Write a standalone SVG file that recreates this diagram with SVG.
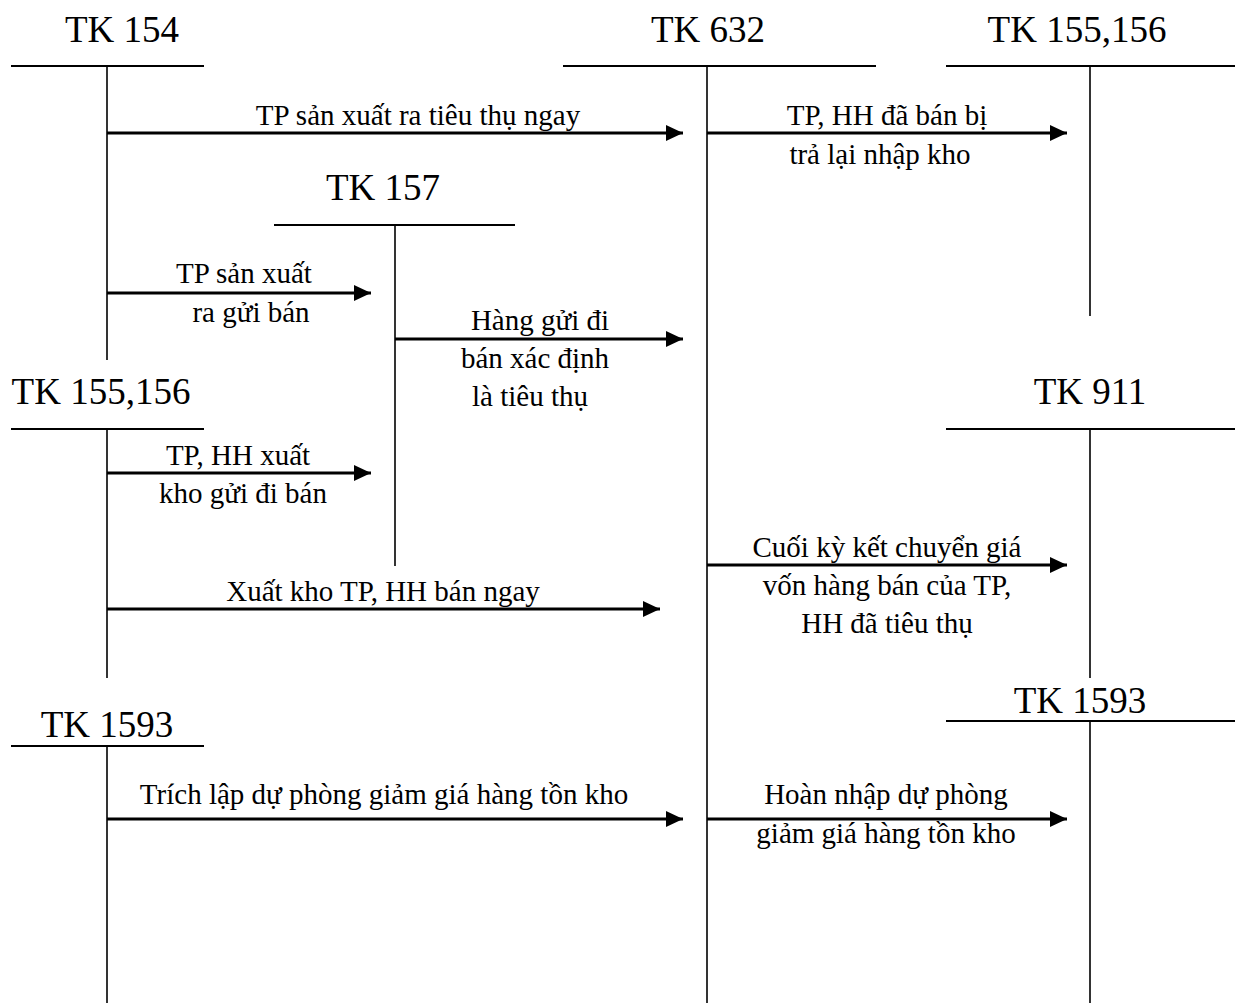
<svg xmlns="http://www.w3.org/2000/svg" width="1238" height="1003" viewBox="0 0 1238 1003">
<style>
.t{font-family:"Liberation Serif","Times New Roman",serif;font-size:37px;fill:#000;text-anchor:middle}
.l{font-family:"Liberation Serif","Times New Roman",serif;font-size:29px;fill:#000;text-anchor:middle}
.h{stroke:#000;stroke-width:2;fill:none}
.v{stroke:#000;stroke-width:1.6;fill:none}
.a{stroke:#000;stroke-width:2.8;fill:none;marker-end:url(#ah)}
</style>
<defs>
<marker id="ah" markerUnits="userSpaceOnUse" markerWidth="18" markerHeight="16" refX="17" refY="8" orient="auto">
<path d="M0,0 L17,8 L0,16 z" fill="#000"/>
</marker>
</defs>
<rect width="1238" height="1003" fill="#fff"/>
<g id="tk154">
<text class="t" x="122" y="42">TK 154</text>
<line class="h" x1="11" y1="66" x2="204" y2="66"/>
<line class="v" x1="107" y1="66" x2="107" y2="360"/>
</g>
<g id="tk632">
<text class="t" x="708" y="42">TK 632</text>
<line class="h" x1="563" y1="66" x2="876" y2="66"/>
<line class="v" x1="707" y1="66" x2="707" y2="1003"/>
</g>
<g id="tk155top">
<text class="t" x="1077" y="42">TK 155,156</text>
<line class="h" x1="946" y1="66" x2="1235" y2="66"/>
<line class="v" x1="1090" y1="66" x2="1090" y2="316"/>
</g>
<g id="tk157">
<text class="t" x="383" y="200">TK 157</text>
<line class="h" x1="274" y1="225" x2="515" y2="225"/>
<line class="v" x1="395" y1="225" x2="395" y2="566"/>
</g>
<g id="tk155left">
<text class="t" x="101" y="404">TK 155,156</text>
<line class="h" x1="11" y1="429" x2="204" y2="429"/>
<line class="v" x1="107" y1="429" x2="107" y2="678"/>
</g>
<g id="tk911">
<text class="t" x="1090" y="404">TK 911</text>
<line class="h" x1="946" y1="429" x2="1235" y2="429"/>
<line class="v" x1="1090" y1="429" x2="1090" y2="678"/>
</g>
<g id="tk1593left">
<text class="t" x="107" y="737">TK 1593</text>
<line class="h" x1="11" y1="746" x2="204" y2="746"/>
<line class="v" x1="107" y1="746" x2="107" y2="1003"/>
</g>
<g id="tk1593right">
<text class="t" x="1080" y="713">TK 1593</text>
<line class="h" x1="946" y1="721" x2="1235" y2="721"/>
<line class="v" x1="1090" y1="721" x2="1090" y2="1003"/>
</g>
<g id="connectors">
<line class="a" x1="107" y1="133" x2="683" y2="133"/>
<line class="a" x1="707" y1="133" x2="1067" y2="133"/>
<line class="a" x1="107" y1="293" x2="371" y2="293"/>
<line class="a" x1="395" y1="339" x2="683" y2="339"/>
<line class="a" x1="107" y1="473" x2="371" y2="473"/>
<line class="a" x1="107" y1="609" x2="660" y2="609"/>
<line class="a" x1="707" y1="565" x2="1067" y2="565"/>
<line class="a" x1="107" y1="819" x2="683" y2="819"/>
<line class="a" x1="707" y1="819" x2="1067" y2="819"/>
</g>
<g id="labels">
<text class="l" x="418" y="125">TP sản xuất ra tiêu thụ ngay</text>
<text class="l" x="887" y="125">TP, HH đã bán bị</text>
<text class="l" x="880" y="164">trả lại nhập kho</text>
<text class="l" x="244" y="283">TP sản xuất</text>
<text class="l" x="251" y="322">ra gửi bán</text>
<text class="l" x="540" y="330">Hàng gửi đi</text>
<text class="l" x="535" y="368">bán xác định</text>
<text class="l" x="530" y="406">là tiêu thụ</text>
<text class="l" x="238" y="465">TP, HH xuất</text>
<text class="l" x="243" y="503">kho gửi đi bán</text>
<text class="l" x="383" y="601">Xuất kho TP, HH bán ngay</text>
<text class="l" x="887" y="557">Cuối kỳ kết chuyển giá</text>
<text class="l" x="887" y="595">vốn hàng bán của TP,</text>
<text class="l" x="887" y="633">HH đã tiêu thụ</text>
<text class="l" x="384" y="804">Trích lập dự phòng giảm giá hàng tồn kho</text>
<text class="l" x="886" y="804">Hoàn nhập dự phòng</text>
<text class="l" x="886" y="843">giảm giá hàng tồn kho</text>
</g>
</svg>
